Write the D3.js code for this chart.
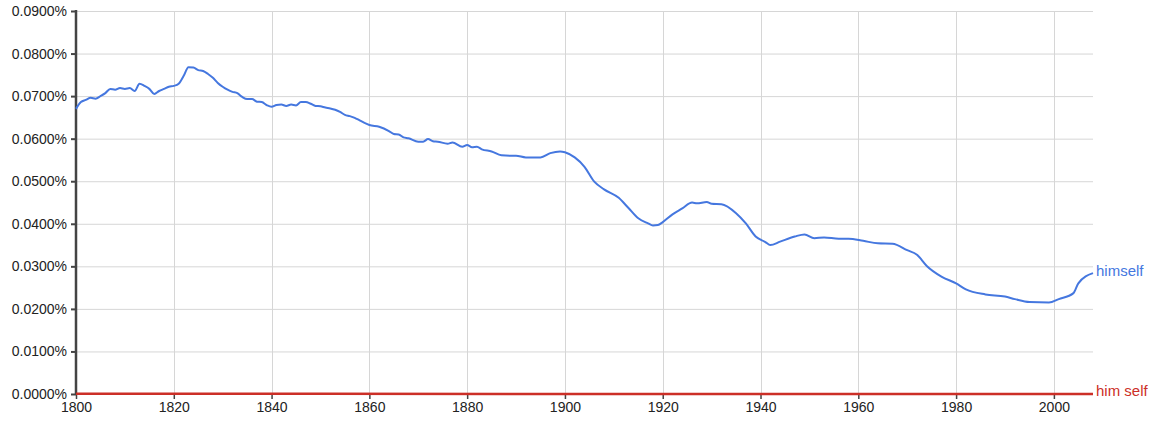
<!DOCTYPE html>
<html>
<head>
<meta charset="utf-8">
<script src="https://cdn.jsdelivr.net/npm/d3@7"></script>
<style>
  body { margin: 0; background: #fff; }
  text { font-family: "Liberation Sans", Arial, sans-serif; }
</style>
</head>
<body>
<div class="container"></div>
<script>
// years and values (percent)
const himselfYears = [1800,1801,1802,1803,1804,1805,1806,1807,1808,1809,1810,1811,1812,1813,1814,1815,1816,1817,1818,1819,
  1820,1821,1822,1823,1824,1825,1826,1827,1828,1829,1830,1831,1832,1833,1834,1835,1836,1837,1838,1839,
  1840,1841,1842,1843,1844,1845,1846,1847,1848,1849,1850,1851,1852,1853,1854,1855,1856,1857,1858,1859,
  1860,1862,1864,1865,1866,1867,1868,1870,1871,1872,1873,1874,1876,1877,1879,1880,1881,1882,1883,1885,
  1887,1889,1890,1892,1895,1897,1899,1900,1902,1904,1906,1908,1911,1913,1915,1917,1918,1919,1920,1922,
  1924,1926,1927,1929,1930,1932,1935,1937,1939,1941,1942,1944,1947,1949,1951,1953,1956,1958,1961,1964,
  1967,1970,1972,1974,1977,1980,1982,1986,1990,1992,1995,1999,2001,2004,2005,2008]
const himselfValues = [0.0670,0.0686,0.0691,0.0696,0.0694,0.0700,0.0707,0.0717,0.0715,0.0719,0.0717,0.0719,0.0712,0.0729,0.0724,0.0717,0.0705,0.0712,0.0717,0.0722,
  0.0724,0.0729,0.0747,0.0768,0.0767,0.0761,0.0759,0.0752,0.0743,0.0731,0.0722,0.0715,0.0710,0.0707,0.0698,0.0693,0.0693,0.0687,0.0686,0.0679,
  0.0675,0.0679,0.0680,0.0677,0.0680,0.0678,0.0686,0.0686,0.0682,0.0677,0.0676,0.0673,0.0671,0.0668,0.0663,0.0656,0.0653,0.0649,0.0643,0.0637,
  0.0632,0.0628,0.0618,0.0611,0.0610,0.0603,0.0601,0.0593,0.0593,0.0599,0.0594,0.0593,0.0588,0.0591,0.0581,0.0585,0.0580,0.0581,0.0575,0.0570,
  0.0561,0.0560,0.0560,0.0556,0.0556,0.0566,0.0570,0.0568,0.0556,0.0534,0.0499,0.0481,0.0461,0.0437,0.0413,0.0401,0.0396,0.0397,0.0404,0.0422,
  0.0436,0.0450,0.0448,0.0451,0.0447,0.0446,0.0425,0.0401,0.0370,0.0357,0.0350,0.0358,0.0370,0.0375,0.0366,0.0368,0.0365,0.0365,0.0360,0.0354,
  0.0353,0.0338,0.0327,0.0301,0.0276,0.0260,0.0246,0.0234,0.0229,0.0223,0.0216,0.0215,0.0223,0.0237,0.0260,0.0284]

const himSelfYears = [1800,1850,1900,1950,2008]
const himSelfValues = [0.00003,0.00003,0.00002,0.00002,0.00002]

const yearTicks = [1800,1820,1840,1860,1880,1900,1920,1940,1960,1980,2000]
const valueTicks = [0,0.01,0.02,0.03,0.04,0.05,0.06,0.07,0.08,0.09]

const w = 1159
const h = 424
const plotLeft = 76, plotRight = 1093, plotTop = 11, plotBottom = 394

const xScale = d3.scaleLinear().domain([1800, 2008]).range([plotLeft, plotRight])
const yScale = d3.scaleLinear().domain([0, 0.09]).range([plotBottom, plotTop])

const svg = d3.select(".container")
              .append("svg")
              .attr("width", w)
              .attr("height", h)

// grid
svg.append("g")
   .selectAll("line")
   .data(valueTicks)
   .enter()
   .append("line")
   .attr("x1", plotLeft).attr("x2", plotRight)
   .attr("y1", d => yScale(d) + 0.5).attr("y2", d => yScale(d) + 0.5)
   .attr("stroke", "#d6d6d6")

svg.append("g")
   .selectAll("line")
   .data(yearTicks.slice(1))
   .enter()
   .append("line")
   .attr("x1", d => Math.round(xScale(d)) + 0.5).attr("x2", d => Math.round(xScale(d)) + 0.5)
   .attr("y1", plotTop).attr("y2", plotBottom)
   .attr("stroke", "#d6d6d6")

// y axis
const yAxis = d3.axisLeft(yScale)
                .tickValues(valueTicks)
                .tickSize(5)
                .tickPadding(4)
                .tickFormat(d => d.toFixed(4) + "%")
const yg = svg.append("g")
   .attr("transform", `translate(${plotLeft}, 0)`)
   .call(yAxis)
yg.select(".domain").remove()
yg.selectAll(".tick line").attr("stroke", "#444").attr("stroke-width", 2)
yg.selectAll("text").attr("fill", "#222").style("font-size", "14px")
yg.append("line")
  .attr("x1", 0).attr("x2", 0)
  .attr("y1", plotTop - 1).attr("y2", plotBottom + 1)
  .attr("stroke", "#444").attr("stroke-width", 2.5)

// x axis
const xAxis = d3.axisBottom(xScale)
                .tickValues(yearTicks)
                .tickSize(5)
                .tickPadding(3)
                .tickFormat(d3.format("d"))
const xg = svg.append("g")
   .attr("transform", `translate(0, ${plotBottom})`)
   .call(xAxis)
xg.select(".domain").remove()
xg.selectAll(".tick line").attr("stroke", "#444").attr("stroke-width", 1.5)
xg.selectAll("text").attr("fill", "#222").style("font-size", "14px")

// lines
const line = d3.line()
               .x(d => xScale(d[0]))
               .y(d => yScale(d[1]))
               .curve(d3.curveMonotoneX)

const himself = himselfYears.map((y, i) => [y, himselfValues[i]])
const himSelf = himSelfYears.map((y, i) => [y, himSelfValues[i]])

svg.append("path")
   .datum(himSelf)
   .attr("d", line)
   .attr("fill", "none")
   .attr("stroke", "#cc2f27")
   .attr("stroke-width", 2.5)

svg.append("path")
   .datum(himself)
   .attr("d", line)
   .attr("fill", "none")
   .attr("stroke", "#4577df")
   .attr("stroke-width", 2)

// labels
const last = himself[himself.length - 1]
svg.append("text")
   .attr("x", plotRight + 3)
   .attr("y", yScale(last[1]) + 3)
   .attr("fill", "#4577df")
   .style("font-size", "15px")
   .text("himself")

svg.append("text")
   .attr("x", plotRight + 3)
   .attr("y", plotBottom + 2)
   .attr("fill", "#cc2f27")
   .style("font-size", "15px")
   .text("him self")
</script>
</body>
</html>
